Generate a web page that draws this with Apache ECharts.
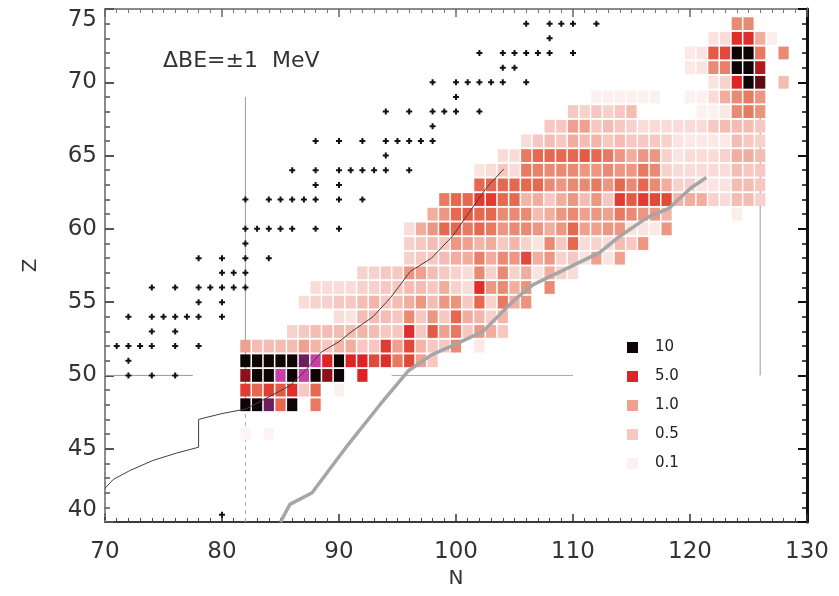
<!DOCTYPE html>
<html>
<head>
<meta charset="utf-8">
<script src="https://cdn.jsdelivr.net/npm/echarts@6/dist/echarts.min.js"></script>
<style>
  html, body { margin: 0; padding: 0; background: #fff; }
  #chart { width: 839px; height: 596px; }
</style>
</head>
<body>
<div id="chart"></div>
<script>
// ---- Sensitivity map: one row per proton number Z, cells start at rowFirstN ----
const rowZ = [46, 48, 49, 50, 51, 52, 53, 54, 55, 56, 57, 58, 59, 60, 61, 62, 63, 64, 65, 66, 67, 68, 69, 70, 71, 72, 73, 74];
const rowFirstN = [82, 82, 82, 82, 82, 82, 86, 90, 87, 88, 92, 96, 96, 96, 98, 99, 102, 102, 104, 106, 108, 110, 112, 122, 120, 120, 122, 124];
const rowValues = [
  [0.08, 0, 0.08],
  [10, 10, 0, 2.5, 10, 0, 2],
  [4, 2.5, 4, 3, 4.5, 0.5, 2.5, 0, 0.1],
  [7, 10, 10, 0, 10, 0, 10, 7, 10, 0, 5],
  [10, 10, 10, 10, 10, 0, 0, 5, 10, 5, 5, 3.5, 4.5, 2, 3.5, 1, 0.5],
  [1, 0.6, 0.6, 0.6, 0.6, 1, 0.7, 0.5, 0.7, 0.8, 0.5, 0.5, 4, 1, 3.5, 0.7, 0.5, 0.5, 1.5, 0, 0.15],
  [0.4, 0.5, 0.6, 0.6, 0.6, 0.6, 0.7, 0.6, 0.5, 0.5, 4.5, 0.5, 3, 1, 2, 0.5, 1.2, 0.8, 0.5],
  [0.3, 0.2, 0.6, 0.6, 0.6, 0.5, 1.5, 0.5, 1.2, 0.5, 2.5, 0.8, 0.7, 0.4, 0.7],
  [0.3, 0.4, 0.4, 0.5, 0.5, 0.6, 0.7, 0.5, 0.6, 0.8, 1.2, 0.6, 1.2, 1.3, 0.5, 2.5, 0.4, 2, 0.8, 1.3],
  [0.3, 0.3, 0.3, 0.3, 0.4, 0.4, 0.5, 0.5, 0.6, 0.6, 0.5, 0.8, 0.4, 0.3, 4.5, 1.2, 1.5, 0.8, 1.3, 0, 1.5],
  [0.4, 0.4, 0.5, 0.5, 1.2, 1.0, 0.6, 0.5, 0.4, 0.3, 1.5, 0.4, 1.5, 0.4, 0.8, 0.2, 0.8, 0.4, 0.3],
  [0.4, 0.5, 0.5, 0.6, 0.8, 0.8, 1.8, 0.8, 1.5, 1.2, 3.5, 0.8, 1.2, 0.4, 0.5, 0.2, 1, 0.2, 1.0],
  [0.4, 0.5, 0.6, 0.5, 1.2, 1, 0.7, 0.8, 0.5, 0.7, 0.4, 0.2, 1.5, 0.5, 2.5, 0.3, 0.4, 0.3, 0.6, 0.5, 1.2],
  [0.3, 0.8, 1.2, 2.5, 2.5, 2, 2.5, 2, 1.2, 1.5, 1.5, 1.2, 0.8, 1.2, 2.5, 1.0, 1.0, 1.2, 1.2, 0.2, 0.2, 0.15, 1.2],
  [0.8, 1.2, 2.5, 3, 2.5, 2.5, 1.5, 1.5, 1.5, 0.6, 0.8, 1.2, 1.5, 1.0, 1.2, 1.0, 2, 1.5, 1.2, 1.2, 0.7, 0, 0, 0, 0, 0, 0.12],
  [2, 2.5, 2.5, 4, 4, 2.5, 2.5, 0.7, 0.8, 0.5, 0.8, 1.2, 0.6, 1.2, 0.5, 4, 3, 4, 3.5, 3.5, 0.7, 0.8, 0.8, 0.4, 0.3, 0.6, 0.6, 0.4],
  [2.5, 2.5, 2.5, 2.5, 2.5, 2.5, 1.5, 1.2, 1.5, 1.5, 2, 1.2, 2.5, 1.5, 2.5, 1.5, 0.8, 0.4, 0.4, 0.2, 0.2, 0.2, 0.6, 0.6, 0.5],
  [0.2, 0.3, 0.5, 0.3, 2, 1.8, 1.5, 1.5, 1.5, 1.2, 1.2, 1.5, 1.2, 1.2, 2, 1.5, 0.4, 0.3, 0.3, 0.3, 0.3, 0.3, 0.6, 0.5, 0.5],
  [0.3, 0.3, 2, 2.5, 2.5, 2.5, 2.5, 3, 2.5, 2, 1.2, 0.8, 1.2, 1.2, 0.4, 0.2, 0.3, 0.3, 0.3, 0.4, 0.8, 0.8, 0.6],
  [0.3, 0.5, 0.6, 0.5, 0.8, 0.6, 0.7, 0.5, 0.6, 0.5, 0.5, 0.5, 0.4, 0.2, 0.15, 0.15, 0.15, 0.15, 0.6, 0.5, 0.4],
  [0.5, 0.5, 1.0, 1.0, 0.5, 0.6, 0.5, 0.4, 0.3, 0.3, 0.3, 0.3, 0.3, 0.3, 0.5, 0.6, 0.6, 0.6, 0.5],
  [0.5, 0.4, 0.5, 0.4, 0.5, 0.6, 0, 0, 0, 0, 0, 0.1, 0.1, 0.15, 1.5, 2, 1.3],
  [0.1, 0.1, 0.1, 0.1, 0.1, 0.1, 0, 0, 0.1, 0.1, 0.3, 0.8, 1.5, 2, 1.2],
  [0.2, 0.4, 5, 10, 8, 0, 0.6],
  [0.15, 0.2, 1.5, 1.8, 10, 10, 6],
  [0.15, 0.2, 3, 3.5, 10, 10, 2, 0, 1.5],
  [0.2, 0.3, 4.5, 4.5, 0.8, 0.12],
  [1.5, 1.5]
];

// Cells drawn in the blended (magenta / purple) shades
const magentaCells = [[85, 50], [87, 50], [88, 51]];
const purpleCells = [[84, 48], [87, 51]];

// Nuclei marked with crosses
const crossN = [106, 108, 109, 110, 112, 108, 102, 104, 105, 106, 107, 108, 110, 104, 105,
  98, 100, 101, 102, 103, 104, 106, 100, 94, 96, 98, 99, 100, 102, 98,
  88, 90, 92, 94, 95, 96, 97, 98, 94, 86, 88, 90, 91, 92, 93, 94, 96, 88, 90,
  82, 84, 85, 86, 87, 88, 90, 92, 82, 83, 84, 85, 86, 88, 90, 82,
  78, 80, 82, 84, 80, 81, 82, 74, 76, 78, 79, 80, 81, 82, 78, 80,
  72, 74, 75, 76, 77, 78, 80, 74, 76, 71, 72, 73, 74, 76, 78, 72, 72, 74, 76, 80];
const crossZ = [74, 74, 74, 74, 74, 73, 72, 72, 72, 72, 72, 72, 72, 71, 71,
  70, 70, 70, 70, 70, 70, 70, 69, 68, 68, 68, 68, 68, 68, 67,
  66, 66, 66, 66, 66, 66, 66, 66, 65, 64, 64, 64, 64, 64, 64, 64, 64, 63, 63,
  62, 62, 62, 62, 62, 62, 62, 62, 60, 60, 60, 60, 60, 60, 60, 59,
  58, 58, 58, 58, 57, 57, 57, 56, 56, 56, 56, 56, 56, 56, 55, 55,
  54, 54, 54, 54, 54, 54, 54, 53, 53, 52, 52, 52, 52, 52, 52, 51, 50, 50, 50, 40.5];

// Thin path curve
const pathN = [70, 70.7, 72.1, 74.1, 76.1, 78, 78, 80, 82, 84.4, 85.8, 87.2, 88.5, 90, 91.1, 92.9, 94.4, 96.1, 97.9, 99.7, 101.2, 102.6, 104.1];
const pathZ = [42.3, 42.9, 43.5, 44.2, 44.7, 45.1, 47.0, 47.4, 47.7, 48.7, 49.3, 50.4, 51.6, 52.3, 53.0, 54.0, 55.3, 57.1, 58.0, 59.5, 61.2, 62.8, 64.1];

// Thick grey boundary curve
const edgeN = [85, 85.8, 87.7, 90.8, 93.5, 95.9, 97.9, 99.9, 102.3, 103.8, 105.2, 106.6, 109.5, 112.3, 114, 116.4, 118.2, 120.1, 121.4];
const edgeZ = [40.0, 41.2, 42.0, 45.3, 48.0, 50.3, 51.4, 52.1, 53.0, 54.2, 55.3, 56.2, 57.3, 58.4, 59.5, 60.8, 61.4, 62.8, 63.5];

// Shell closure guide lines
const shellN82Solid = [[82, 48], [82, 69]];
const shellN82Dashed = [[82, 40], [82, 48]];
const shellZ50Left = [[70, 50], [77.5, 50]];
const shellZ50Right = [[94.5, 50], [110, 50]];
const shellN126 = [[126, 50], [126, 68]];
const leftDotted = [[70, 40], [70, 47]];

// Legend entries
const legendValues = [10, 5.0, 1.0, 0.5, 0.1];
const legendLabels = ['10', '5.0', '1.0', '0.5', '0.1'];

// ---- Colour scale (log interpolation between anchor shades) ----
const colorStops = [
  [0.05, '#fffafa'], [0.1, '#fdf1ef'], [0.3, '#f9dcd7'], [0.5, '#f6c8c1'],
  [1, '#efa08e'], [2, '#e97a62'], [3, '#e45a43'], [5, '#de2326'],
  [7, '#8c1218'], [10, '#0e0305']
];
function hexToRgb(h) { return [1, 3, 5].map(i => parseInt(h.substr(i, 2), 16)); }
function scaleColor(v) {
  const lv = Math.log10(Math.max(v, colorStops[0][0]));
  for (let i = 1; i < colorStops.length; i++) {
    const l0 = Math.log10(colorStops[i - 1][0]), l1 = Math.log10(colorStops[i][0]);
    if (lv <= l1 || i === colorStops.length - 1) {
      const t = Math.min(1, Math.max(0, (lv - l0) / (l1 - l0)));
      const a = hexToRgb(colorStops[i - 1][1]), b = hexToRgb(colorStops[i][1]);
      const c = a.map((x, k) => Math.round(x + (b[k] - x) * t));
      return 'rgb(' + c.join(',') + ')';
    }
  }
  return colorStops[colorStops.length - 1][1];
}

const cellData = [];
rowZ.forEach((z, i) => {
  rowValues[i].forEach((v, k) => { if (v > 0) cellData.push([rowFirstN[i] + k, z, v]); });
});
const crossData = crossN.map((n, i) => [n, crossZ[i]]);
const zip = (a, b) => a.map((x, i) => [x, b[i]]);

const FONT = 'DejaVu Sans';
const CELL = [10.2, 12.8];
const CROSS = 'path://M2,0H4V2H6V4H4V6H2V4H0V2H2Z';

function guide(data, color, type) {
  return {
    type: 'line', data: data, symbol: 'none', silent: true, z: 1,
    lineStyle: { color: color, width: 1, type: type || 'solid' }
  };
}

const chart = echarts.init(document.getElementById('chart'), null, { renderer: 'canvas' });
chart.setOption({
  animation: false,
  backgroundColor: '#ffffff',
  grid: { left: 105, right: 32, top: 9, bottom: 74, containLabel: false },
  xAxis: [{
    type: 'value', min: 70, max: 130, interval: 10, position: 'bottom',
    name: 'N', nameLocation: 'middle', nameGap: 45,
    nameTextStyle: { fontFamily: FONT, fontSize: 20, color: '#333' },
    axisLine: { show: true, lineStyle: { color: '#3a3a3a', width: 2 } },
    axisTick: { inside: true, length: 8, lineStyle: { color: '#333', width: 1.5 } },
    minorTick: { show: true, splitNumber: 10, length: 4, lineStyle: { color: '#444', width: 1 } },
    axisLabel: { fontFamily: FONT, fontSize: 23, color: '#333', margin: 19 },
    splitLine: { show: false }
  }, {
    type: 'value', min: 70, max: 130, interval: 10, position: 'top',
    axisLine: { show: true, lineStyle: { color: '#8a8a8a', width: 2 } },
    axisTick: { inside: true, length: 8, lineStyle: { color: '#666', width: 1.5 } },
    minorTick: { show: true, splitNumber: 10, length: 4, lineStyle: { color: '#777', width: 1 } },
    axisLabel: { show: false },
    splitLine: { show: false }
  }],
  yAxis: [{
    type: 'value', min: 40, max: 75, interval: 5, position: 'left',
    name: 'Z', nameLocation: 'middle', nameGap: 64,
    nameTextStyle: { fontFamily: FONT, fontSize: 20, color: '#333' },
    axisLine: { show: true, lineStyle: { color: '#8a8a8a', width: 2 } },
    axisTick: { inside: true, length: 9, lineStyle: { color: '#555', width: 2 } },
    minorTick: { show: true, splitNumber: 5, length: 5, lineStyle: { color: '#555', width: 1.5 } },
    axisLabel: {
      fontFamily: FONT, fontSize: 23, color: '#333', margin: 8,
      verticalAlignMinLabel: 'bottom', verticalAlignMaxLabel: 'top'
    },
    splitLine: { show: false }
  }, {
    type: 'value', min: 40, max: 75, interval: 5, position: 'right',
    axisLine: { show: true, lineStyle: { color: '#111', width: 3 } },
    axisTick: { inside: true, length: 9, lineStyle: { color: '#111', width: 2 } },
    minorTick: { show: true, splitNumber: 5, length: 5, lineStyle: { color: '#111', width: 1.5 } },
    axisLabel: { show: false },
    splitLine: { show: false }
  }],
  series: [
    guide(shellN82Solid, '#9a9a9a'),
    guide(shellN82Dashed, '#aaaaaa', [4, 4]),
    guide(shellZ50Left, '#9a9a9a'),
    guide(shellZ50Right, '#a8a8a8'),
    guide(shellN126, '#9a9a9a'),
    guide(leftDotted, '#999999', [2, 3]),
    {
      type: 'scatter', data: cellData, symbol: 'rect', symbolSize: CELL, z: 2, silent: true,
      itemStyle: { color: p => scaleColor(p.value[2]), opacity: 1 }
    },
    {
      type: 'scatter', data: magentaCells, symbol: 'rect', symbolSize: CELL, z: 2, silent: true,
      itemStyle: { color: '#c63fa6', opacity: 1 }
    },
    {
      type: 'scatter', data: purpleCells, symbol: 'rect', symbolSize: CELL, z: 2, silent: true,
      itemStyle: { color: '#6c1f5c', opacity: 1 }
    },
    {
      type: 'line', data: zip(edgeN, edgeZ), symbol: 'none', z: 3, silent: true,
      lineStyle: { color: '#a6a6a6', width: 3.5 }
    },
    {
      type: 'line', data: zip(pathN, pathZ), symbol: 'none', z: 4, silent: true,
      lineStyle: { color: '#4a3c3c', width: 1 }
    },
    {
      type: 'scatter', data: crossData, symbol: CROSS, symbolSize: 6, z: 5, silent: true,
      itemStyle: { color: '#111111', opacity: 1 }
    }
  ],
  graphic: [
    {
      type: 'text', left: 163, top: 50, silent: true,
      style: { text: 'ΔBE=±1  MeV', font: '22px "DejaVu Sans"', fill: '#333' }
    }
  ].concat(legendValues.map((v, i) => ({
    type: 'rect', silent: true,
    shape: { x: 627, y: 342 + i * 29, width: 11, height: 11 },
    style: { fill: scaleColor(v) }
  }))).concat(legendLabels.map((t, i) => ({
    type: 'text', silent: true, x: 655, y: 347 + i * 29,
    style: { text: t, font: '15px "DejaVu Sans"', fill: '#222', verticalAlign: 'middle' }
  })))
});
</script>
</body>
</html>
